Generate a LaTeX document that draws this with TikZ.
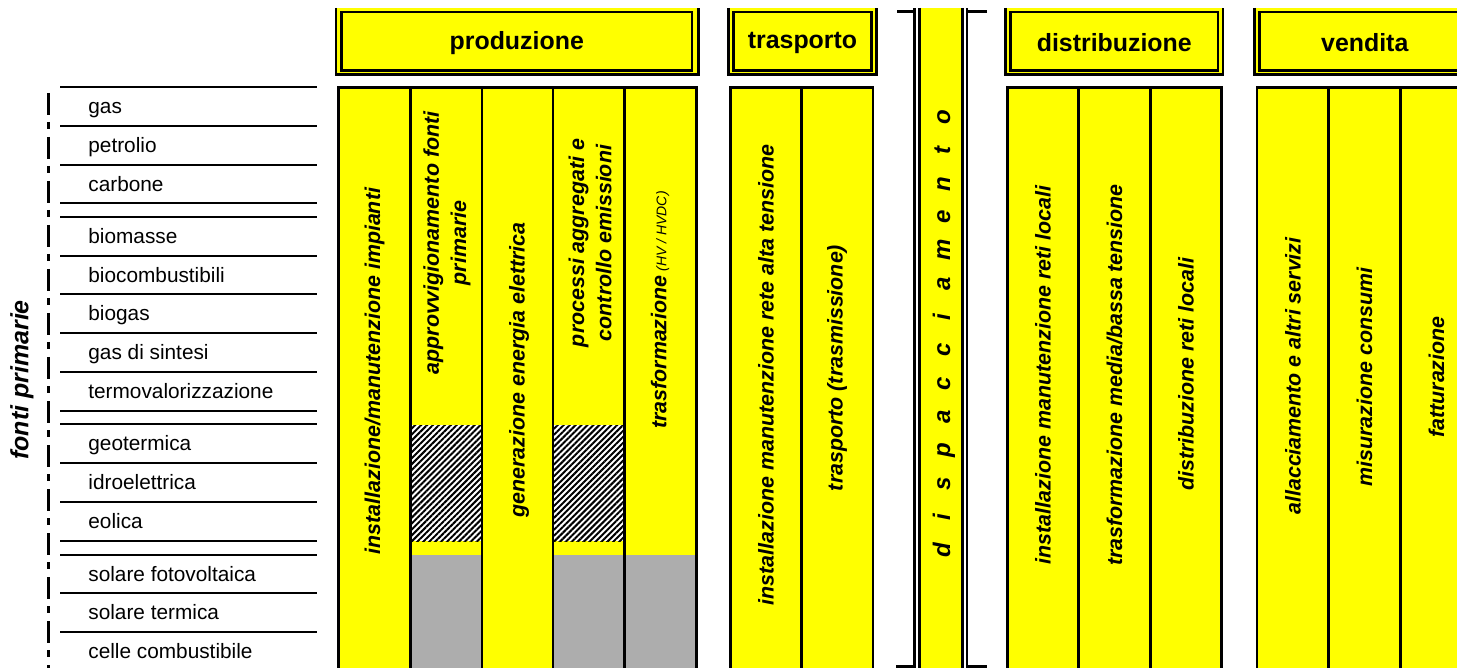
\documentclass[tikz,border=0pt]{standalone}
\usepackage{fontspec}
\setmainfont{Liberation Sans}
\usetikzlibrary{patterns.meta}
\definecolor{ylw}{RGB}{255,255,0}
\begin{document}
\begin{tikzpicture}[x=0.5pt,y=-0.5pt,
  frame/.style={line width=1.35pt},
  listline/.style={line width=0.85pt},
  hdrtext/.style={inner sep=0pt,font=\bfseries\fontsize{12.45}{15}\selectfont},
  coltext/.style={inner sep=0pt,rotate=90,align=center,font=\bfseries\itshape\fontsize{10.7}{13.6}\selectfont},
  srctext/.style={inner sep=0pt,anchor=base west,font=\fontsize{10.4}{12}\selectfont},
  disptext/.style={inner sep=0pt,rotate=90,anchor=base,font=\bfseries\itshape\fontsize{12}{14}\selectfont},
  sidetext/.style={inner sep=0pt,rotate=90,font=\bfseries\itshape\fontsize{12.5}{15}\selectfont},
  hatchfill/.style={preaction={fill=white},pattern={Lines[angle=45,distance=2.1pt,line width=1pt]},pattern color=black},
  dotfill/.style={fill=black!32}
]
\useasboundingbox (0,0) rectangle (1457,668);
\clip (0,0) rectangle (1457,668);

% ---------- headers ----------
\foreach \xa/\xb/\xc/\xd/\nm/\tx in {336/341.5/692/698.5/prod/produzione,
  728.5/733.5/871.5/876.5/tras/trasporto,
  1005.5/1010.5/1218/1223/dist/distribuzione,
  1254.5/1259.5/1470/1475/vend/vendita}{
  \fill[ylw] (\xa,8) rectangle (\xd,74.5);
  \draw[frame] (\xa,8) -- (\xa,74.5) -- (\xd,74.5) -- (\xd,8);
  \draw[frame] (\xb,12) rectangle (\xc,70.5);
  \node[hdrtext] (h\nm) at ({(\xb+\xc)/2},43) {\tx};
}

% ---------- column blocks ----------
\foreach \xl/\xr in {338.5/696.5, 730.5/873, 1007.5/1221.5, 1257/1473}{
  \fill[ylw] (\xl,87.5) rectangle (\xr,700);
}
% patterns in produzione
\fill[hatchfill] (410.5,425) rectangle (482,541);
\fill[hatchfill] (553,425) rectangle (624.5,541);
\fill[dotfill] (410.5,555) rectangle (482,700);
\fill[dotfill] (553,555) rectangle (696.5,700);

\foreach \xl/\xr in {338.5/696.5, 730.5/873, 1007.5/1221.5, 1257/1473}{
  \draw[frame] (\xl,700) -- (\xl,87.5) -- (\xr,87.5) -- (\xr,700);
}
\foreach \x in {410.5,482,553,624.5, 801.5, 1078.5,1150.5, 1328.5,1400.5}{
  \draw[frame] (\x,87.5) -- (\x,700);
}

% ---------- dispacciamento ----------
\fill[ylw] (919.5,8) rectangle (962.5,668);
\draw[line width=1.1pt] (919.5,8) -- (919.5,668) (962.5,8) -- (962.5,668);
\draw[line width=1.3pt] (897,11.5) -- (914.5,11.5) -- (914.5,8) (914.5,11.5) -- (914.5,666.5) -- (896,666.5);
\draw[line width=1.3pt] (987,11.5) -- (967,11.5) -- (967,8) (967,11.5) -- (967,666.5) -- (987,666.5);
\foreach \c [count=\i] in {d,i,s,p,a,c,c,i,a,m,e,n,t,o}{
  \node[disptext] (disp\i) at (950,{550-(\i-1)*33.3}) {\c};
}

% ---------- primary sources list ----------
\foreach \y in {87,126,165,203,217,256,294,333,372,411,424,463,502,541,555,593,632}{
  \draw[listline] (60,\y) -- (317,\y);
}
\foreach \y/\nm/\tx in {113.5/s1/gas, 152.5/s2/petrolio, 191.5/s3/carbone,
  243.5/s4/biomasse, 282.5/s5/biocombustibili, 320.5/s6/biogas, 359.5/s7/gas di sintesi, 398.5/s8/termovalorizzazione,
  450.5/s9/geotermica, 489.5/s10/idroelettrica, 528.5/s11/eolica,
  581.5/s12/solare fotovoltaica, 619.5/s13/solare termica, 658.5/s14/celle combustibile}{
  \node[srctext] (\nm) at (88,\y) {\tx};
}
\draw[line width=1.5pt,dash pattern=on 11pt off 3.5pt on 3.5pt off 4pt] (48.5,93) -- (48.5,700);
\node[sidetext] (fonti) at (22,380) {fonti primarie};

% ---------- column labels ----------
\node[coltext] (c1) at (374.5,371) {installazione/manutenzione impianti};
\node[coltext] (c2) at (447,243) {approvvigionamento fonti\\primarie};
\node[coltext] (c3) at (519,370) {generazione energia elettrica};
\node[coltext] (c4) at (590,243) {processi aggregati e\\controllo emissioni};
\node[coltext] (c5) at (660,310) {trasformazione{\mdseries\fontsize{7}{8}\selectfont\ (HV / HVDC)}};
\node[coltext] (c6) at (766,375) {installazione manutenzione rete alta tensione};
\node[coltext] (c7) at (837,368) {trasporto (trasmissione)};
\node[coltext] (c8) at (1043,375) {installazione manutenzione reti locali};
\node[coltext] (c9) at (1114.5,375) {trasformazione media/bassa tensione};
\node[coltext] (c10) at (1186,374) {distribuzione reti locali};
\node[coltext] (c11) at (1293,376) {allacciamento e altri servizi};
\node[coltext] (c12) at (1364.5,377) {misurazione consumi};
\node[coltext] (c13) at (1436.5,377) {fatturazione};
\end{tikzpicture}
\end{document}
